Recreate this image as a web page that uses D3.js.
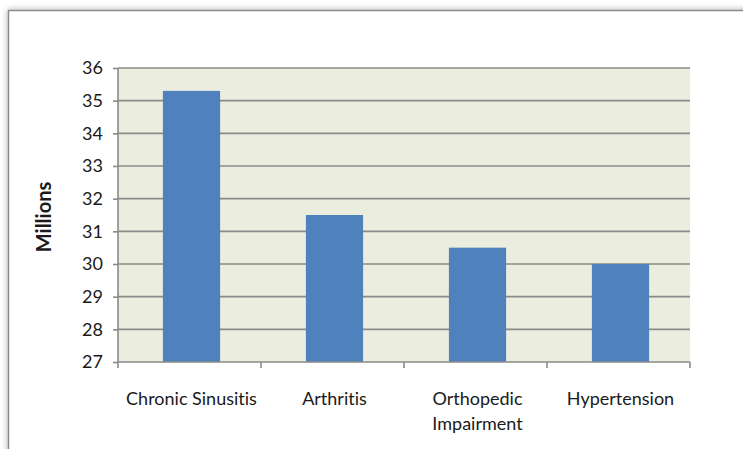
<!DOCTYPE html>
<html>
<head>
<meta charset="utf-8">
<script src="https://cdn.jsdelivr.net/npm/d3@7"></script>
<style>
  body { margin: 0; background: #fff; }
  svg { font-family: Lato, "Open Sans", sans-serif; font-variant-ligatures: none; }
</style>
</head>
<body>
<div id="chart"></div>
<script>
// chart data
const categories = ["Chronic Sinusitis", "Arthritis", "Orthopedic Impairment", "Hypertension"];
const values = [35.3, 31.5, 30.5, 30.0];
const yTicks = [27, 28, 29, 30, 31, 32, 33, 34, 35, 36];

const W = 743, H = 449;
const margin = { top: 68, right: 53, bottom: 87, left: 118 };
const width = W - margin.left - margin.right;
const height = H - margin.top - margin.bottom;

const svg = d3.select("#chart").append("svg")
    .attr("width", W)
    .attr("height", H);

// outer frame with soft shadow
const defs = svg.append("defs");
const f = defs.append("filter").attr("id", "sh").attr("x", "-5%").attr("y", "-5%").attr("width", "110%").attr("height", "110%");
f.append("feGaussianBlur").attr("in", "SourceAlpha").attr("stdDeviation", 3);
f.append("feComponentTransfer").append("feFuncA").attr("type", "linear").attr("slope", 0.35);
const m = f.append("feMerge");
m.append("feMergeNode");
m.append("feMergeNode").attr("in", "SourceGraphic");

svg.append("rect")
    .attr("x", 8.5).attr("y", 10.5)
    .attr("width", W + 20).attr("height", H + 20)
    .attr("fill", "#fff")
    .attr("stroke", "#8c8c8c")
    .attr("stroke-width", 1.5)
    .attr("filter", "url(#sh)");

const g = svg.append("g")
    .attr("transform", "translate(" + margin.left + "," + margin.top + ")");

const x = d3.scaleBand()
    .domain(categories)
    .range([0, width])
    .paddingInner(0.6)
    .paddingOuter(0.3);

const y = d3.scaleLinear()
    .domain([27, 36])
    .range([height, 0]);

// plot background
g.append("rect")
    .attr("width", width)
    .attr("height", height)
    .attr("fill", "#ebeedf");

// gridlines
g.selectAll(".grid")
    .data(yTicks.slice(1))
    .enter().append("line")
    .attr("x1", 0).attr("x2", width)
    .attr("y1", d => y(d)).attr("y2", d => y(d))
    .attr("stroke", "#8a8a8a")
    .attr("stroke-width", 1.6);

// bars
g.selectAll(".bar")
    .data(categories)
    .enter().append("rect")
    .attr("x", d => x(d) + 2)
    .attr("y", (d, i) => y(values[i]))
    .attr("width", x.bandwidth())
    .attr("height", (d, i) => height - y(values[i]))
    .attr("fill", "#4f81bd");

// y axis
const yAxis = g.append("g")
    .call(d3.axisLeft(y).tickValues(yTicks).tickSize(5).tickPadding(10));
yAxis.select(".domain").attr("stroke", "#8a8a8a").attr("stroke-width", 1.6).attr("d", "M0," + height + "V0");
yAxis.selectAll(".tick line").attr("stroke", "#8a8a8a").attr("stroke-width", 1.6);
yAxis.selectAll(".tick text").attr("font-size", 18).attr("fill", "#1a1a1a").attr("font-family", "Lato, sans-serif");

// x axis: ticks at band boundaries
const xAxisG = g.append("g").attr("transform", "translate(0," + height + ")");
xAxisG.append("line")
    .attr("x1", 0).attr("x2", width)
    .attr("stroke", "#8a8a8a").attr("stroke-width", 1.6);
const step = x.step();
xAxisG.selectAll(".xt")
    .data(d3.range(categories.length + 1))
    .enter().append("line")
    .attr("x1", d => d * step).attr("x2", d => d * step)
    .attr("y1", 0).attr("y2", 6)
    .attr("stroke", "#8a8a8a").attr("stroke-width", 1.6);

// category labels (wrapped)
const labelLines = {
    "Chronic Sinusitis": ["Chronic Sinusitis"],
    "Arthritis": ["Arthritis"],
    "Orthopedic Impairment": ["Orthopedic", "Impairment"],
    "Hypertension": ["Hypertension"]
};
categories.forEach(c => {
    const t = xAxisG.append("text")
        .attr("x", x(c) + x.bandwidth() / 2 + 2)
        .attr("y", 43)
        .attr("text-anchor", "middle")
        .attr("font-size", 18)
        .attr("fill", "#1a1a1a");
    labelLines[c].forEach((l, i) => {
        t.append("tspan")
            .attr("x", x(c) + x.bandwidth() / 2 + 2)
            .attr("dy", i === 0 ? 0 : 25)
            .text(l);
    });
});

// y axis title
svg.append("text")
    .attr("transform", "translate(51,217) rotate(-90)")
    .attr("text-anchor", "middle")
    .attr("font-size", 20)
    .attr("font-weight", "bold")
    .attr("fill", "#1a1a1a")
    .text("Millions");
</script>
</body>
</html>
